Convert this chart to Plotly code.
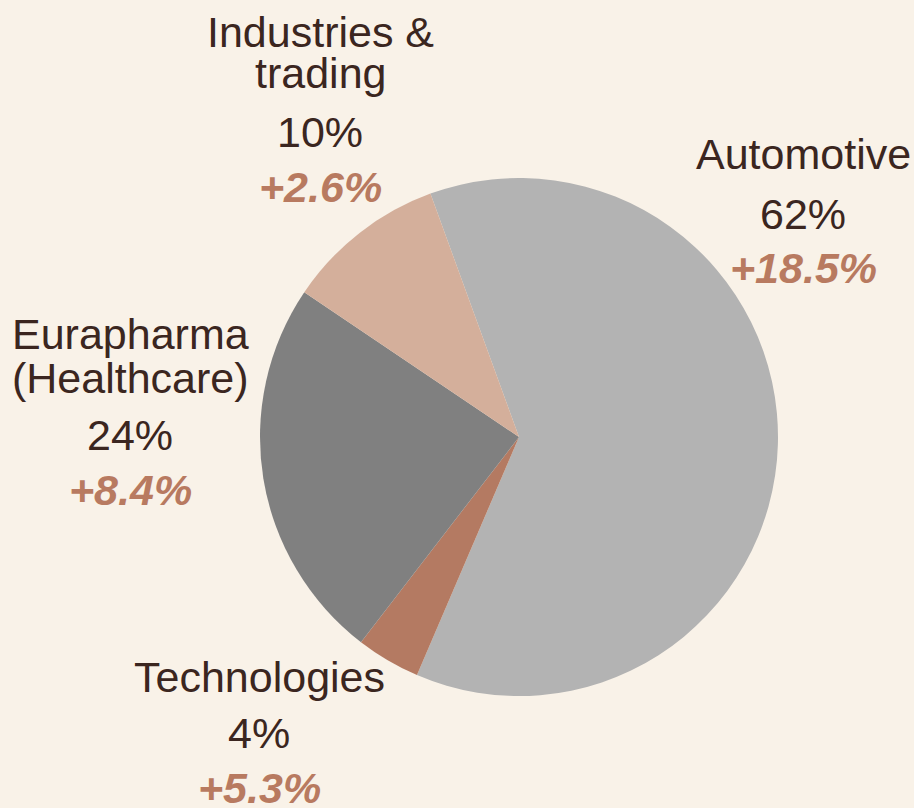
import plotly.graph_objects as go

categories = ["Automotive", "Technologies", "Eurapharma<br>(Healthcare)", "Industries &<br>trading"]
shares = [62, 4, 24, 10]
changes = ["+18.5%", "+5.3%", "+8.4%", "+2.6%"]
colors = ["#B3B3B3", "#B47A62", "#808080", "#D4AF9B"]

W, H = 914, 808
BG = "#F9F2E8"
TXT = "#3B2620"
ACC = "#B87A60"
FONT = "Liberation Sans, Arial, sans-serif"
FS = 43

# label block layout (pixel centers / baselines for each category)
label_pos = {
    "Automotive": dict(x=803, name=[169], pct=229, chg=283),
    "Technologies": dict(x=259, name=[692], pct=748, chg=803),
    "Eurapharma<br>(Healthcare)": dict(x=130, name=[349, 393], pct=450, chg=505),
    "Industries &<br>trading": dict(x=320, name=[47, 88], pct=147, chg=202),
}

cx, cy, r = 519, 437, 259

fig = go.Figure(go.Pie(
    labels=categories,
    values=shares,
    marker=dict(colors=colors, line=dict(width=0)),
    sort=False,
    direction="clockwise",
    rotation=-20,
    textinfo="none",
    hoverinfo="label+percent",
    domain=dict(x=[(cx - r) / W, (cx + r) / W], y=[1 - (cy + r) / H, 1 - (cy - r) / H]),
    showlegend=False,
))

def add_text(text, x, baseline, color, bold=False, italic=False):
    t = text
    if bold:
        t = "<b>" + t + "</b>"
    if italic:
        t = "<i>" + t + "</i>"
    yc = baseline - 0.36 * FS
    fig.add_annotation(
        text=t, x=x / W, y=1 - yc / H, xref="paper", yref="paper",
        xanchor="center", yanchor="middle", showarrow=False,
        font=dict(family=FONT, size=FS, color=color),
    )

for cat, val, chg in zip(categories, shares, changes):
    p = label_pos[cat]
    lines = cat.split("<br>")
    for line, bl in zip(lines, p["name"]):
        add_text(line, p["x"], bl, TXT)
    add_text(f"{val}%", p["x"], p["pct"], TXT)
    add_text(chg, p["x"], p["chg"], ACC, bold=True, italic=True)

fig.update_layout(
    width=W, height=H,
    margin=dict(l=0, r=0, t=0, b=0),
    paper_bgcolor=BG, plot_bgcolor=BG,
    font=dict(family=FONT, color=TXT),
)

fig.write_html(
    "out.html",
    config={"displayModeBar": False},
    post_script="document.body.style.margin='0';document.body.style.overflow='hidden';document.body.style.background='" + BG + "';",
)
